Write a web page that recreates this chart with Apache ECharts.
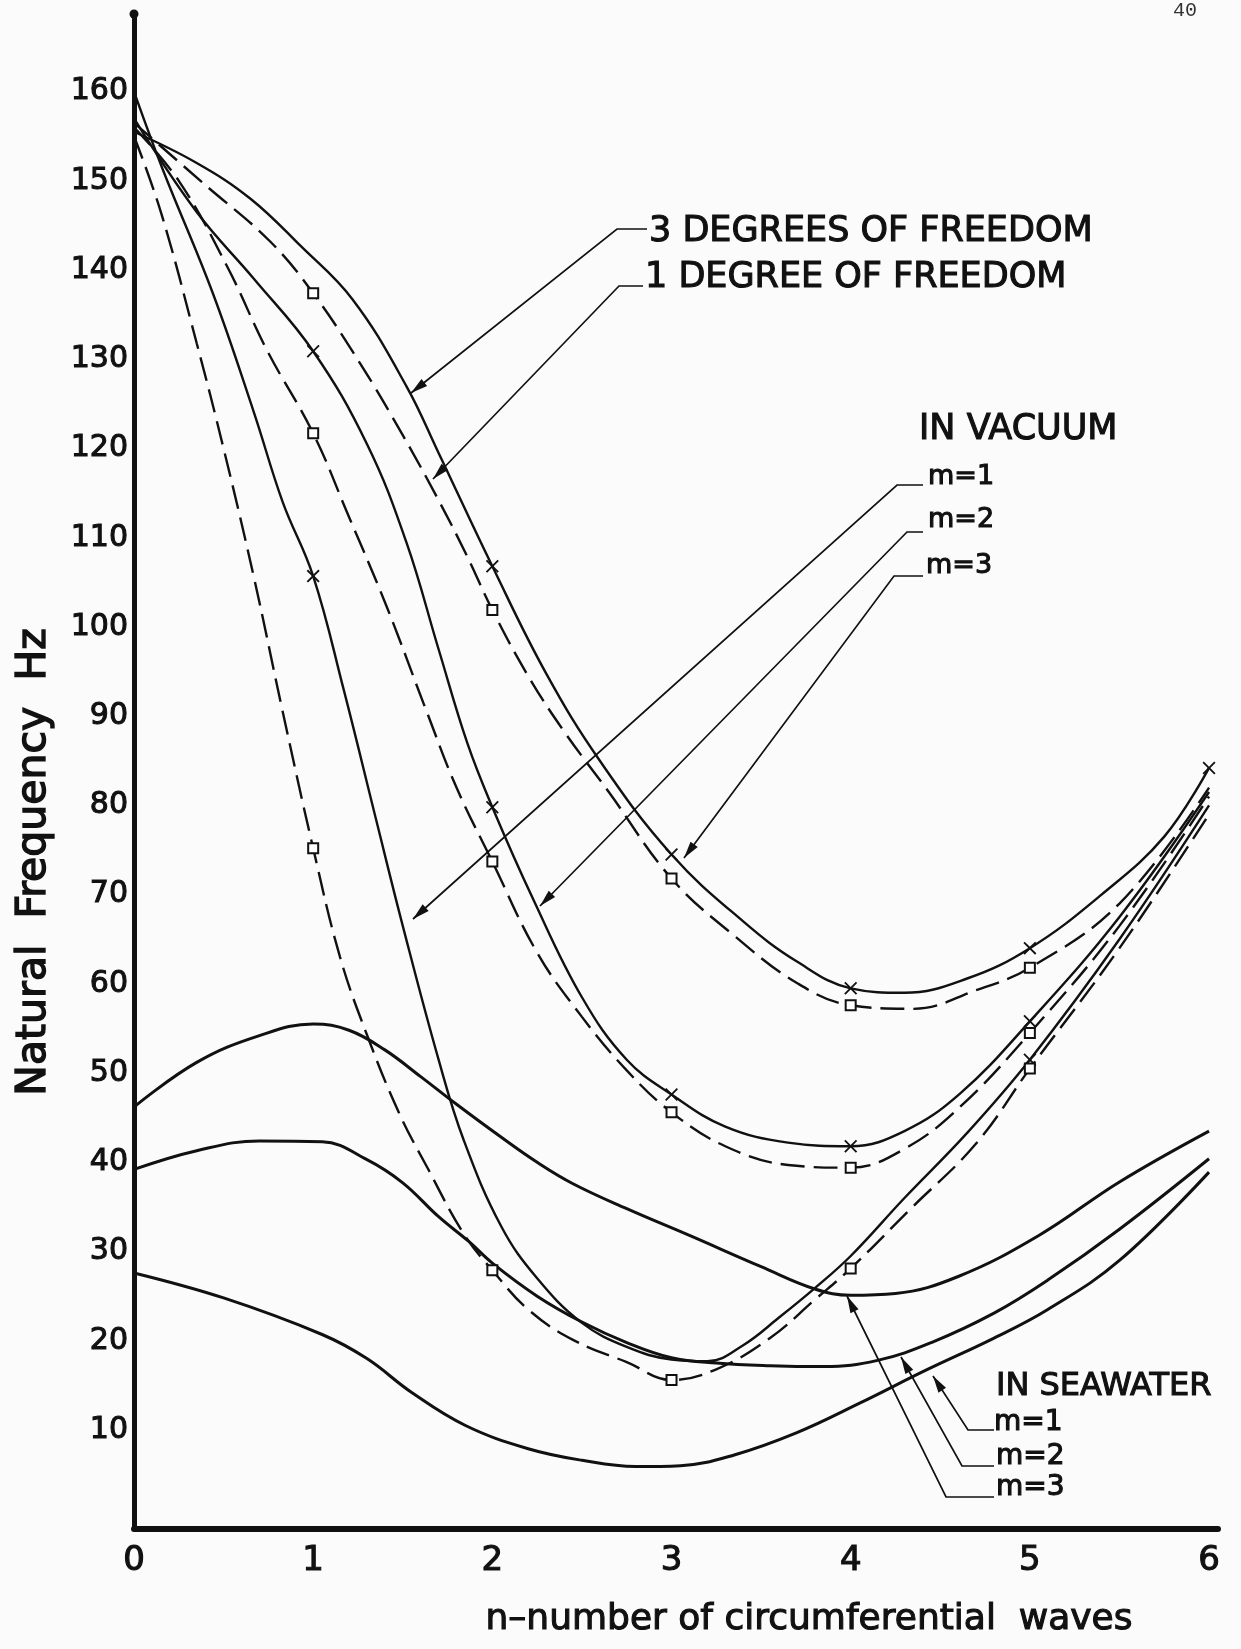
<!DOCTYPE html>
<html><head><meta charset="utf-8">
<script src="https://cdn.jsdelivr.net/npm/echarts@6/dist/echarts.min.js"></script>
<style>html,body{margin:0;padding:0;background:#fbfbfb}#c{width:1241px;height:1649px}</style>
</head><body><div id="c"></div>
<script>
// ---------- tick labels ----------
const xTicks = [0, 1, 2, 3, 4, 5, 6];
const yTicks = [10, 20, 30, 40, 50, 60, 70, 80, 90, 100, 110, 120, 130, 140, 150, 160];

// ---------- IN VACUUM : 3 degrees of freedom (solid, x markers) ----------
const vacM3Dof3 = [[0,155.5],[0.35,152],[0.65,148],[0.93,142.7],[1.22,136.7],[1.52,127],[1.7,119.5],[2,106.8],[2.3,94.8],[2.6,85],[3,74.5],[3.4,67],[3.7,62.5],[4,59.5],[4.3,59],[4.65,60.6],[5,64],[5.4,70],[5.75,76.5],[6,84.2]];
const vacM3Dof3Marks = [2, 3, 4, 5, 6];
const vacM2Dof3 = [[0,157],[0.35,146.5],[0.67,139],[1,130.9],[1.3,120.5],[1.52,109.5],[1.7,97.5],[1.86,87],[2,79.8],[2.23,69.4],[2.5,58.5],[2.75,51.5],[3,47.6],[3.3,44],[3.65,42.2],[4,41.8],[4.3,43.5],[4.61,47.7],[5,55.8],[5.5,67.5],[6,81.5]];
const vacM2Dof3Marks = [1, 2, 3, 4, 5];
const vacM1Dof3 = [[0,160],[0.16,151.3],[0.44,137.4],[0.67,124],[0.83,114],[1,105.7],[1.17,93],[1.35,78.5],[1.5,66.5],[1.7,51.5],[1.84,42.5],[2.05,32.8],[2.25,27],[2.5,22],[2.75,19.3],[3,17.9],[3.2,17.7],[3.4,19.5],[3.6,22.6],[3.8,25.9],[4,29.5],[4.3,36],[4.65,43.3],[5,51.5],[5.5,65],[6,80]];
const vacM1Dof3Marks = [1, 5];

// ---------- IN VACUUM : 1 degree of freedom (dashed, square markers) ----------
const vacM3Dof1 = [[0,156.5],[0.4,149.5],[0.76,143.2],[1,137.4],[1.26,129.6],[1.5,121.5],[1.7,114.2],[1.86,107.9],[2,101.9],[2.2,94.5],[2.4,88.3],[2.65,81.5],[3,71.8],[3.35,65.4],[3.7,60.1],[4,57.6],[4.35,57.2],[4.7,59.3],[5,61.8],[5.5,69],[6,82]];
const vacM3Dof1Marks = [1, 2, 3, 4, 5];
const vacM2Dof1 = [[0,156],[0.25,150],[0.52,140.4],[0.74,131.1],[1,121.7],[1.19,112.8],[1.41,102.3],[1.63,90.7],[1.8,82],[2,73.7],[2.25,63.5],[2.5,56.3],[2.75,50.3],[3,45.6],[3.3,41.8],[3.65,39.7],[4,39.4],[4.3,41.5],[4.61,46.2],[5,54.5],[5.5,66.5],[6,81]];
const vacM2Dof1Marks = [1, 2, 3, 4, 5];
const vacM1Dof1 = [[0,155],[0.15,146.5],[0.35,131.8],[0.5,120],[0.67,105.5],[0.83,90.5],[1,75.2],[1.15,63],[1.3,54.3],[1.48,45.5],[1.64,39.3],[1.84,32],[2,27.9],[2.2,23.5],[2.45,20.1],[2.75,17.6],[3,15.6],[3.25,16.8],[3.55,20.3],[3.8,24.6],[4,28.1],[4.33,34.7],[4.7,42.1],[5,50.5],[5.5,64],[6,79]];
const vacM1Dof1Marks = [1, 2, 3, 4, 5];

// ---------- IN SEAWATER (heavy solid) ----------
const seaM3 = [[0,46.2],[0.35,51.2],[0.7,54.2],[1,55.5],[1.2,54.8],[1.4,52.6],[1.6,49.6],[1.8,46.5],[2.05,42.8],[2.25,40],[2.45,37.6],[2.75,34.8],[3.1,31.8],[3.5,28.3],[3.8,25.8],[4,25.1],[4.25,25.3],[4.6,27.2],[5.05,31.8],[5.5,37.8],[6,43.5]];
const seaM2 = [[0,39.2],[0.35,41.3],[0.7,42.4],[1.05,42.3],[1.3,40.3],[1.5,37.7],[1.7,33.9],[1.87,31.1],[2,28.7],[2.25,25],[2.5,22.1],[2.75,19.8],[3,18.1],[3.25,17.5],[3.55,17.2],[3.85,17.1],[4.15,17.8],[4.45,19.8],[4.8,23.1],[5.1,26.8],[5.5,32.5],[6,40.4]];
const seaM1 = [[0,27.6],[0.5,24.8],[1.05,20.7],[1.3,18],[1.55,14.2],[1.85,10.5],[2.2,7.9],[2.5,6.6],[2.8,5.9],[3.05,6],[3.35,7.2],[3.7,9.7],[4.05,13],[4.42,16.7],[4.8,20.3],[5.1,23.5],[5.5,29],[6,38.9]];

// ---------- texts ----------
const yTitle = 'Natural  Frequency  Hz';
const xTitle = 'n\u2013number of circumferential  waves';

const INK = '#111';
const FONT = 'DejaVu Sans';
const X_PATH = 'path://M1,0L5,4L9,0L10,1L6,5L10,9L9,10L5,6L1,10L0,9L4,5L0,1Z';

function curve(name, pts, marks, kind) {
  const sym = kind === 'dof3' ? X_PATH : 'emptyRect';
  const data = pts.map(p => ({
    value: p,
    symbol: (marks && marks.indexOf(p[0]) >= 0) ? sym : 'none'
  }));
  return {
    name, type: 'line', data,
    smooth: 0.4,
    showSymbol: kind !== 'sea',
    symbolSize: kind === 'dof3' ? 13 : 10,
    itemStyle: kind === 'dof3' ? {color: INK} : {color: INK, borderColor: INK, borderWidth: 2},
    lineStyle: {
      color: INK,
      width: kind === 'sea' ? 3 : 2.4,
      type: kind === 'dof1' ? [24, 9] : 'solid'
    },
    silent: true, animation: false, z: kind === 'sea' ? 3 : 4
  };
}

const series = [
  curve('sea m=3', seaM3, null, 'sea'),
  curve('sea m=2', seaM2, null, 'sea'),
  curve('sea m=1', seaM1, null, 'sea'),
  curve('vac m=3 3dof', vacM3Dof3, vacM3Dof3Marks, 'dof3'),
  curve('vac m=2 3dof', vacM2Dof3, vacM2Dof3Marks, 'dof3'),
  curve('vac m=1 3dof', vacM1Dof3, vacM1Dof3Marks, 'dof3'),
  curve('vac m=3 1dof', vacM3Dof1, vacM3Dof1Marks, 'dof1'),
  curve('vac m=2 1dof', vacM2Dof1, vacM2Dof1Marks, 'dof1'),
  curve('vac m=1 1dof', vacM1Dof1, vacM1Dof1Marks, 'dof1')
];

// ---------- annotation leaders ----------
function leader(points) {
  const els = [];
  els.push({type: 'polyline', shape: {points}, style: {stroke: INK, lineWidth: 1.7, fill: null}, silent: true, z: 10});
  const t = points[points.length - 1], f = points[points.length - 2];
  let dx = t[0] - f[0], dy = t[1] - f[1];
  const len = Math.hypot(dx, dy); dx /= len; dy /= len;
  const L = 17, W = 4.5;
  const bx = t[0] - dx * L, by = t[1] - dy * L;
  els.push({type: 'polygon', shape: {points: [t, [bx - dy * W, by + dx * W], [bx + dy * W, by - dx * W]]},
    style: {fill: INK}, silent: true, z: 10});
  return els;
}
function label(text, x, y, size) {
  return {type: 'text', x, y, silent: true, z: 10,
    style: {text, fill: INK, font: size + 'px "' + FONT + '"', align: 'left', verticalAlign: 'middle',
      stroke: INK, lineWidth: 1.1}};
}

const graphics = [].concat(
  leader([[647,229],[617,229],[411,393]]),
  leader([[643,286],[619,286],[433,479]]),
  leader([[923,485],[897,485],[413,919]]),
  leader([[923,532],[907,532],[540,906]]),
  leader([[923,576],[894,576],[684,858]]),
  leader([[994,1430],[968,1430],[933,1376]]),
  leader([[994,1466],[962,1466],[901,1357]]),
  leader([[994,1497],[946,1497],[847,1296]]),
  [
    label('3 DEGREES OF FREEDOM', 649, 232, 35),
    label('1 DEGREE OF FREEDOM', 645, 278, 35),
    label('IN VACUUM', 919, 430, 35),
    label('m=1', 928, 477, 27),
    label('m=2', 928, 520, 27),
    label('m=3', 926, 566, 27),
    label('IN SEAWATER', 996, 1387, 32),
    label('m=1', 994, 1423, 28),
    label('m=2', 996, 1457, 28),
    label('m=3', 996, 1488, 28),
    {type: 'text', x: 34, y: 862, rotation: Math.PI / 2, silent: true, z: 10,
      style: {text: yTitle, fill: INK, font: '41px "' + FONT + '"', align: 'center', verticalAlign: 'middle', stroke: INK, lineWidth: 1.4}},
    {type: 'text', x: 809, y: 1620, silent: true, z: 10,
      style: {text: xTitle, fill: INK, font: '36px "' + FONT + '"', align: 'center', verticalAlign: 'middle', stroke: INK, lineWidth: 1.1}},
    {type: 'text', x: 1185, y: 11, silent: true, z: 10,
      style: {text: '40', fill: '#333', font: '20px "Liberation Mono"', align: 'center', verticalAlign: 'middle'}}
  ]
);

const chart = echarts.init(document.getElementById('c'), null, {renderer: 'canvas', width: 1241, height: 1649});
chart.setOption({
  backgroundColor: '#fbfbfb',
  animation: false,
  grid: {left: 134, right: 23, top: 14, bottom: 120, containLabel: false},
  xAxis: {
    type: 'value', min: 0, max: 6.05,
    axisLine: {show: true, onZero: false, lineStyle: {color: INK, width: 6}},
    axisTick: {show: false}, splitLine: {show: false},
    axisLabel: {customValues: xTicks, margin: 15, fontSize: 34, fontFamily: FONT, color: INK,
      textBorderColor: INK, textBorderWidth: 1.1}
  },
  yAxis: {
    type: 'value', min: -1.1, max: 168.7,
    axisLine: {show: true, onZero: false, symbol: ['none', 'circle'], symbolSize: [9, 9], lineStyle: {color: INK, width: 5}},
    axisTick: {show: false}, splitLine: {show: false},
    axisLabel: {customValues: yTicks, margin: 6, fontSize: 30, fontFamily: FONT, color: INK,
      textBorderColor: INK, textBorderWidth: 1.1}
  },
  series,
  graphic: graphics
});
</script>
</body></html>
